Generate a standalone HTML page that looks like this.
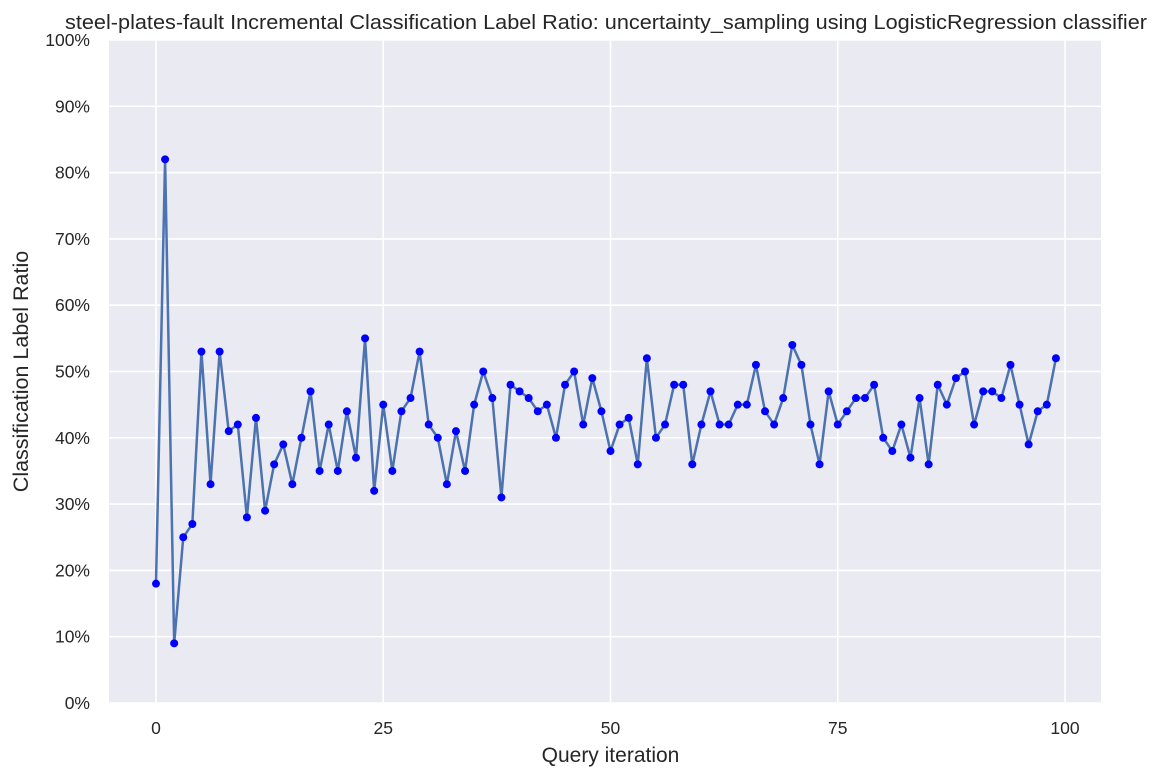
<!DOCTYPE html>
<html><head><meta charset="utf-8"><style>
body{margin:0;background:#fff;font-family:"Liberation Sans",sans-serif;}
svg text{font-family:"Liberation Sans",sans-serif;fill:#262626;}
</style></head><body>
<svg id="chart" width="1159" height="779"></svg>
<script>
const iterations = Array.from({length:100},(_,i)=>i);
const ratios = [18,82,9,25,27,53,33,53,41,42,28,43,29,36,39,33,40,47,35,42,35,44,37,55,32,45,35,44,46,53,42,40,33,41,35,45,50,46,31,48,47,46,44,45,40,48,50,42,49,44,38,42,43,36,52,40,42,48,48,36,42,47,42,42,45,45,51,44,42,46,54,51,42,36,47,42,44,46,46,48,40,38,42,37,46,36,48,45,49,50,42,47,47,46,51,45,39,44,45,52];
const xTicks = [0,25,50,75,100];
const yTicks = [0,10,20,30,40,50,60,70,80,90,100];

const L=109,R=1101,T=40,B=703;
const X0=-5.17,X1=103.96,Y0=0,Y1=100;
const sx=v=>L+(v-X0)/(X1-X0)*(R-L);
const sy=v=>B-(v-Y0)/(Y1-Y0)*(B-T);
const NS='http://www.w3.org/2000/svg';
const svg=document.getElementById('chart');
function mk(tag,attrs,parent){const e=document.createElementNS(NS,tag);for(const k in attrs)e.setAttribute(k,attrs[k]);(parent||svg).appendChild(e);return e;}

const bg=mk('rect',{x:L,y:T,width:R-L,height:B-T,fill:'#eaeaf2'});



yTicks.forEach(t=>{
  const g=mk('line',{x1:L,x2:R,y1:sy(t),y2:sy(t),stroke:'#fff','stroke-width':1.6});
  
  
  const tx=mk('text',{x:L-19,y:sy(t)+6,'text-anchor':'end','font-size':17.5});
  tx.textContent=t+'%';
  
  
});
xTicks.forEach(t=>{
  const g=mk('line',{x1:sx(t),x2:sx(t),y1:T,y2:B,stroke:'#fff','stroke-width':1.6});
  
  
  const tx=mk('text',{x:sx(t),y:B+31,'text-anchor':'middle','font-size':17.5});
  tx.textContent=t;
  
  
});

const pts=iterations.map((x,i)=>sx(x)+','+sy(ratios[i])).join(' ');
const line=mk('polyline',{points:pts,fill:'none',stroke:'#4c72b0','stroke-width':2.5});


iterations.forEach((x,i)=>{
  const c=mk('circle',{cx:sx(x),cy:sy(ratios[i]),r:4,fill:'#0000ff'});
  
  
});

const title=mk('text',{x:606,y:29,'text-anchor':'middle','font-size':20,textLength:1082,lengthAdjust:'spacingAndGlyphs'});
title.textContent='steel-plates-fault Incremental Classification Label Ratio: uncertainty_sampling using LogisticRegression classifier';


const xl=mk('text',{x:sx(50),y:762,'text-anchor':'middle','font-size':21});
xl.textContent='Query iteration';


const yl=mk('text',{x:0,y:0,'text-anchor':'middle','font-size':21.5,transform:'translate(28,'+((T+B)/2)+') rotate(-90)'});
yl.textContent='Classification Label Ratio';


</script>
</body></html>
